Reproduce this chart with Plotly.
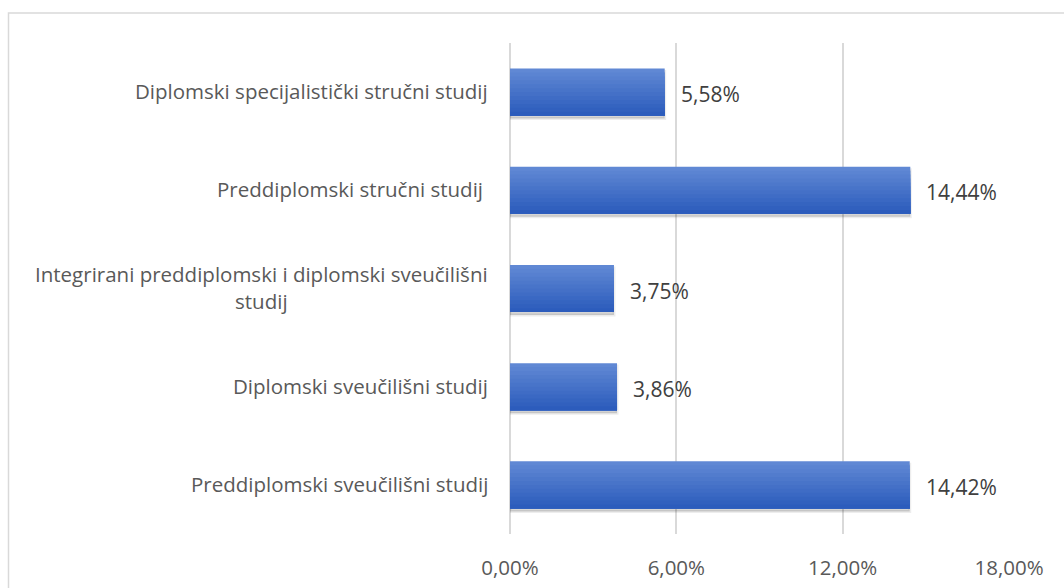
import plotly.graph_objects as go

categories = [
    "Diplomski specijalistički stručni studij",
    "Preddiplomski stručni studij ",
    "Integrirani preddiplomski i diplomski sveučilišni<br>studij",
    "Diplomski sveučilišni studij",
    "Preddiplomski sveučilišni studij",
]
values = [0.0558, 0.1444, 0.0375, 0.0386, 0.1442]
tick_vals = [0, 0.06, 0.12, 0.18]

FONT = "Open Sans"
TXT = "#595959"
GRID = "#d9d9d9"
BAR_W = 0.48
FS = 20.5

fig = go.Figure()

# shadow
fig.add_trace(go.Bar(
    y=categories, x=values, orientation="h", width=BAR_W, offset=-BAR_W / 2 + 0.03,
    marker=dict(color="rgba(0,0,0,0.16)", line=dict(color="rgba(0,0,0,0.07)", width=3)),
    hoverinfo="skip", showlegend=False,
))

# gradient bars (top lighter -> bottom darker)
top = (96, 136, 212)
bot = (44, 92, 188)
steps = 12
for i in range(steps):
    t = i / (steps - 1)
    c = tuple(round(top[k] + (bot[k] - top[k]) * t) for k in range(3))
    w = BAR_W * (steps - i) / steps
    fig.add_trace(go.Bar(
        y=categories, x=values, orientation="h", width=w, offset=BAR_W / 2 - w,
        marker=dict(color="rgb(%d,%d,%d)" % c, line=dict(width=0)),
        hoverinfo="skip", showlegend=False,
    ))

# category labels
for cat in categories:
    fig.add_annotation(
        x=0, xref="paper", y=cat, yref="y", text=cat, showarrow=False,
        xanchor="right", yanchor="middle", align="center", xshift=-20, yshift=1,
        font=dict(family=FONT, size=FS, color=TXT),
    )

# value labels
for cat, v in zip(categories, values):
    fig.add_annotation(
        x=v, y=cat, text=("%.2f%%" % (v * 100)).replace(".", ","), showarrow=False,
        xanchor="left", yanchor="middle", xshift=14, yshift=-2,
        font=dict(family=FONT, size=21, color="#404040"),
    )

# outer border
fig.add_shape(type="rect", xref="paper", yref="paper",
              x0=(8 - 510) / 499.5, x1=(1080 - 510) / 499.5,
              y0=-(600 - 534) / 491, y1=1 + (43 - 13) / 491,
              line=dict(color="#d9d9d9", width=1.5), layer="below")

fig.update_layout(
    width=1064, height=588,
    margin=dict(l=510, r=54.5, t=43, b=54, autoexpand=False),
    paper_bgcolor="white", plot_bgcolor="white",
    barmode="overlay", separators=",.",
    font=dict(family=FONT, size=FS, color=TXT),
    xaxis=dict(range=[0, 0.18], tickvals=tick_vals, tickformat=".2%",
               showgrid=True, gridcolor=GRID, gridwidth=1.5,
               zeroline=True, zerolinecolor=GRID, zerolinewidth=1.5,
               showline=False, ticklabelstandoff=19, automargin=False,
               tickfont=dict(family=FONT, size=FS, color=TXT), fixedrange=True),
    yaxis=dict(categoryorder="array", categoryarray=categories, autorange="reversed",
               showticklabels=False, showgrid=False, zeroline=False, showline=False,
               automargin=False),
)

fig.write_html("out.html", config={"displayModeBar": False},
               post_script="document.body.style.margin='0';")
